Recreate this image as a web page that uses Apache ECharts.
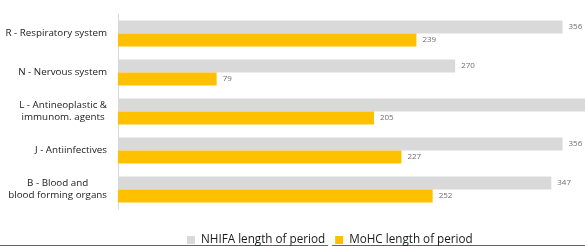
<!DOCTYPE html>
<html>
<head>
<meta charset="utf-8">
<script src="https://cdn.jsdelivr.net/npm/echarts@6/dist/echarts.min.js"></script>
<style>
  html, body { margin: 0; padding: 0; background: #fff; }
  #chart { width: 585px; height: 246px; }
</style>
</head>
<body>
<div id="chart"></div>
<script>
// categories, bottom to top
var categories = [
  'B - Blood and\nblood forming organs',
  'J - Antiinfectives',
  'L - Antineoplastic &\nimmunom. agents',
  'N - Nervous system',
  'R - Respiratory system'
];
var nhifaValues = [347, 356, 390, 270, 356];
var mohcValues = [252, 227, 205, 79, 239];
var seriesNames = ['NHIFA length of period', 'MoHC length of period'];

var chart = echarts.init(document.getElementById('chart'));

var labelStyle = {
  show: true,
  position: 'right',
  distance: 6,
  fontFamily: 'Open Sans',
  fontSize: 8,
  color: '#6e6e6e'
};

var option = {
  animation: false,
  grid: { left: 118, right: 0, top: 14, bottom: 37 },
  legend: {
    data: seriesNames,
    top: 229,
    left: 182,
    itemWidth: 8,
    itemHeight: 8,
    itemGap: 10,
    icon: 'rect',
    textStyle: { fontFamily: 'Open Sans', fontSize: 11.7, color: '#1a1a1a', padding: [0, 0, 0, 1] }
  },
  xAxis: {
    type: 'value',
    min: 0,
    max: 374,
    show: false
  },
  yAxis: {
    type: 'category',
    data: categories,
    axisLine: { lineStyle: { color: '#d9d9d9', width: 1 } },
    axisTick: { show: false },
    axisLabel: {
      margin: 11,
      formatter: function (v) {
        return v.split('\n').map(function (s) { return '{c|' + s + '}'; }).join('\n');
      },
      rich: {
        c: { align: 'center', fontFamily: 'Open Sans', fontSize: 9.8, color: '#1a1a1a', lineHeight: 12 }
      }
    }
  },
  series: [
    {
      name: seriesNames[0],
      type: 'bar',
      data: nhifaValues,
      barWidth: 13,
      barGap: '0%',
      itemStyle: { color: '#d9d9d9' },
      label: labelStyle
    },
    {
      name: seriesNames[1],
      type: 'bar',
      data: mohcValues,
      barWidth: 13,
      itemStyle: { color: '#ffc000' },
      label: labelStyle
    }
  ],
  graphic: [
    { type: 'line', shape: { x1: 0, y1: 245.5, x2: 328, y2: 245.5 }, style: { stroke: '#9b4a5a', lineWidth: 1 } },
    { type: 'line', shape: { x1: 332, y1: 245.5, x2: 585, y2: 245.5 }, style: { stroke: '#9b4a5a', lineWidth: 1 } }
  ]
};

chart.setOption(option);
</script>
</body>
</html>
